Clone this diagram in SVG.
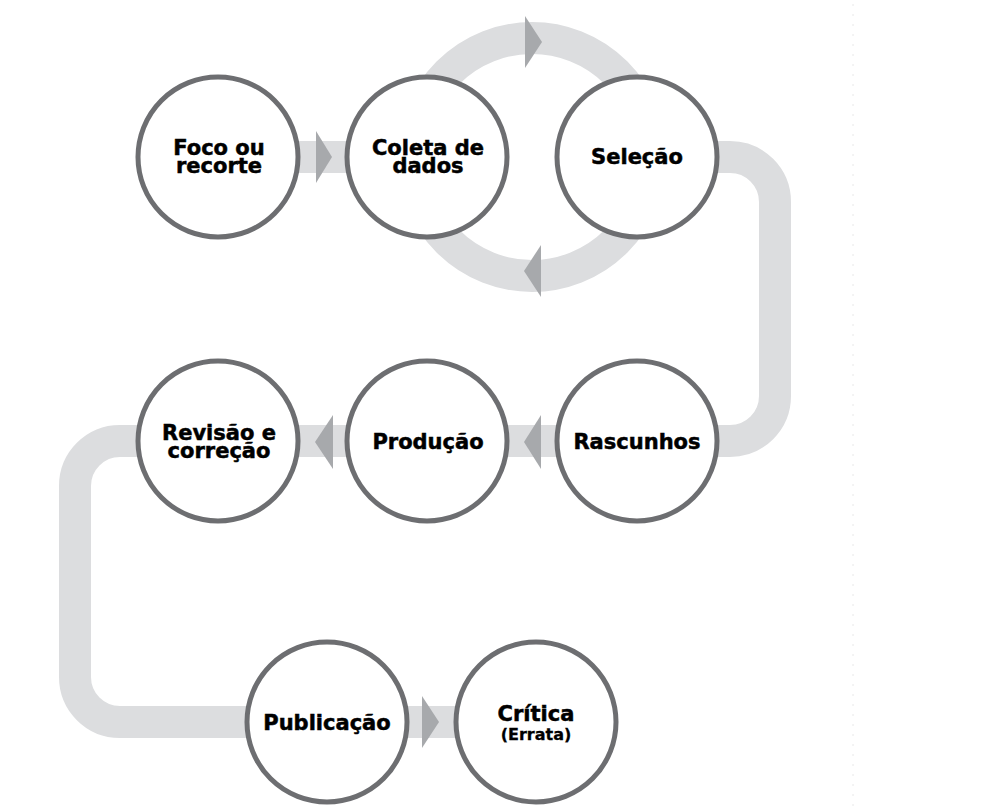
<svg xmlns="http://www.w3.org/2000/svg" width="1006" height="808" viewBox="0 0 1006 808">
<style>
.band{fill:none;stroke:#dcdddf;stroke-width:32}
.head{fill:#a7a9ac}
.node circle{fill:#ffffff;stroke:#6d6e71;stroke-width:5}
.lbl{font-family:"DejaVu Sans","Liberation Sans",Arial,sans-serif;font-weight:bold;font-size:21px;fill:#000000;stroke:#000000;stroke-width:0.5;text-anchor:middle}
.sub{font-size:16px;stroke-width:0.3}
</style>
<rect width="1006" height="808" fill="#ffffff"/>
<line x1="853" y1="4" x2="853" y2="808" stroke="#e8e8e8" stroke-width="1" stroke-dasharray="2 8"/>
<g id="connectors">
  <line class="band" x1="290" y1="157" x2="355" y2="157"/>
  <circle class="band" cx="532" cy="157" r="119"/>
  <path class="band" d="M710 157 H730 A45 45 0 0 1 775 202 V396 A45 45 0 0 1 730 441 H710"/>
  <line class="band" x1="500" y1="441" x2="565" y2="441"/>
  <line class="band" x1="290" y1="441" x2="355" y2="441"/>
  <path class="band" d="M146 441 H120 A45 45 0 0 0 75 486 V677 A45 45 0 0 0 120 722 H255"/>
  <line class="band" x1="400" y1="722" x2="462" y2="722"/>
  <polygon class="head" points="316,131 332,157 316,183"/>
  <polygon class="head" points="525,16 542,42 525,68"/>
  <polygon class="head" points="541,245 524,271 541,297"/>
  <polygon class="head" points="541,415 524,442 541,469"/>
  <polygon class="head" points="333,415 315,442 333,469"/>
  <polygon class="head" points="422,696 439,722 422,748"/>
</g>
<g id="foco" class="node"><circle cx="218" cy="157" r="80"/>
  <text class="lbl" x="219" y="155">Foco ou</text><text class="lbl" x="219" y="173">recorte</text></g>
<g id="coleta" class="node"><circle cx="427" cy="157" r="80"/>
  <text class="lbl" x="428" y="155">Coleta de</text><text class="lbl" x="428" y="173">dados</text></g>
<g id="selecao" class="node"><circle cx="637" cy="157" r="80"/>
  <text class="lbl" x="637" y="164">Seleção</text></g>
<g id="rascunhos" class="node"><circle cx="637" cy="441" r="80"/>
  <text class="lbl" x="637" y="449">Rascunhos</text></g>
<g id="producao" class="node"><circle cx="427" cy="441" r="80"/>
  <text class="lbl" x="428" y="449">Produção</text></g>
<g id="revisao" class="node"><circle cx="218" cy="441" r="80"/>
  <text class="lbl" x="219" y="440">Revisão e</text><text class="lbl" x="219" y="458">correção</text></g>
<g id="publicacao" class="node"><circle cx="327" cy="722" r="80"/>
  <text class="lbl" x="327" y="730">Publicação</text></g>
<g id="critica" class="node"><circle cx="536" cy="722" r="80"/>
  <text class="lbl" x="536" y="721">Crítica</text><text class="lbl sub" x="536" y="740">(Errata)</text></g>
</svg>
